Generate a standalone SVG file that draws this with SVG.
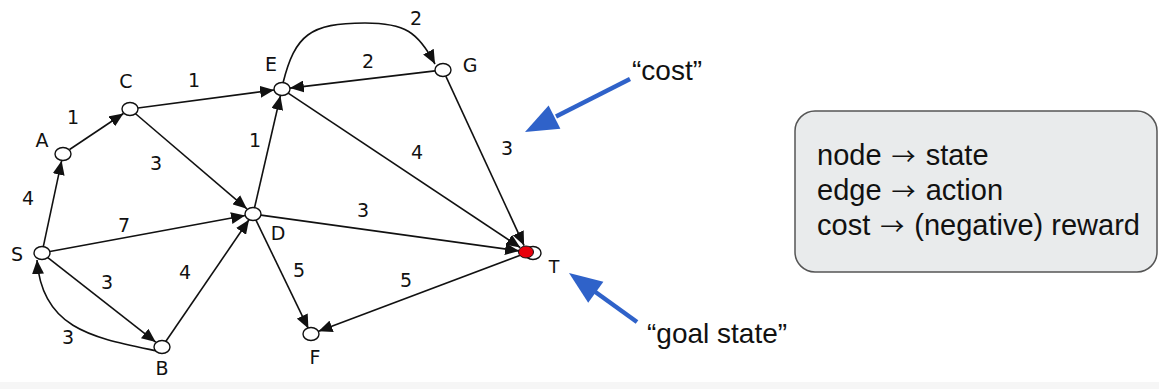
<svg xmlns="http://www.w3.org/2000/svg" width="1159" height="389" viewBox="0 0 1159 389">
<style>
.lbl{font-family:"DejaVu Sans",Verdana,sans-serif;font-size:19px;fill:#111;text-anchor:middle}
.nd{fill:#fff;stroke:#111;stroke-width:1.4}
.ed{fill:none;stroke:#111;stroke-width:1.6;marker-end:url(#ah)}
.note{font-family:"Liberation Sans",Arial,sans-serif;fill:#111}
.arr{font-family:"Noto Sans CJK SC","Noto Sans CJK JP",sans-serif;font-size:24px}
.blue{stroke:#2f62c9;stroke-width:4.5;fill:none}
</style>
<defs>
<marker id="ah" viewBox="0 0 14 12" refX="14" refY="6" markerWidth="14" markerHeight="12" markerUnits="userSpaceOnUse" orient="auto">
<path d="M0,0 L14,6 L0,12 z" fill="#111"/>
</marker>
</defs>
<rect x="0" y="382" width="1159" height="7" fill="#f6f6f6"/>
<g id="connectors">
<line class="ed" x1="43.2" y1="247.1" x2="61.6" y2="160.8"/>
<line class="ed" x1="69.6" y1="149.5" x2="123.4" y2="113.5"/>
<line class="ed" x1="137.9" y1="108" x2="274.1" y2="90"/>
<line class="ed" x1="135.3" y1="113.5" x2="246.9" y2="208.8"/>
<line class="ed" x1="254.4" y1="208.2" x2="280.4" y2="95.8"/>
<path class="ed" d="M283,83 C295,35 310,23 365,23 C405,23 418,32 435,64"/>
<line class="ed" x1="435.1" y1="70.9" x2="289.9" y2="88.1"/>
<line class="ed" x1="287.8" y1="92.9" x2="520.3" y2="247.6"/>
<line class="ed" x1="445.9" y1="76.4" x2="524.1" y2="245.6"/>
<line class="ed" x1="49.9" y1="251.5" x2="245.1" y2="215.5"/>
<line class="ed" x1="47.5" y1="257.3" x2="155.7" y2="342.1"/>
<path class="ed" d="M157,351 C95,338 42,330 37,260"/>
<line class="ed" x1="165.4" y1="342" x2="249" y2="219.8"/>
<line class="ed" x1="260.9" y1="215.1" x2="519.1" y2="250.9"/>
<line class="ed" x1="255.6" y1="219.4" x2="308.4" y2="328.6"/>
<line class="ed" x1="521" y1="255" x2="318.5" y2="331.2"/>
</g>
<g id="edge-labels">
<text class="lbl" x="28" y="205">4</text>
<text class="lbl" x="73" y="124">1</text>
<text class="lbl" x="194" y="87">1</text>
<text class="lbl" x="156" y="170">3</text>
<text class="lbl" x="255" y="147">1</text>
<text class="lbl" x="416" y="25">2</text>
<text class="lbl" x="368" y="68">2</text>
<text class="lbl" x="417" y="159">4</text>
<text class="lbl" x="507" y="155">3</text>
<text class="lbl" x="124" y="232">7</text>
<text class="lbl" x="107" y="289">3</text>
<text class="lbl" x="185" y="279">4</text>
<text class="lbl" x="68" y="344">3</text>
<text class="lbl" x="363" y="217">3</text>
<text class="lbl" x="299" y="277">5</text>
<text class="lbl" x="406" y="287">5</text>
</g>
<g id="node-S"><ellipse class="nd" cx="42" cy="253" rx="8" ry="6.5"/><text class="lbl" x="17" y="261">S</text></g>
<g id="node-A"><ellipse class="nd" cx="63" cy="154" rx="8" ry="6.5"/><text class="lbl" x="42" y="147">A</text></g>
<g id="node-C"><ellipse class="nd" cx="130" cy="109" rx="8" ry="6.5"/><text class="lbl" x="126" y="88">C</text></g>
<g id="node-E"><ellipse class="nd" cx="282" cy="89" rx="8" ry="6.5"/><text class="lbl" x="271" y="71">E</text></g>
<g id="node-G"><ellipse class="nd" cx="443" cy="70" rx="8" ry="6.5"/><text class="lbl" x="470" y="72">G</text></g>
<g id="node-D"><ellipse class="nd" cx="253" cy="214" rx="8" ry="6.5"/><text class="lbl" x="278" y="240">D</text></g>
<g id="node-B"><ellipse class="nd" cx="162" cy="347" rx="8" ry="6.5"/><text class="lbl" x="162" y="375">B</text></g>
<g id="node-F"><ellipse class="nd" cx="311" cy="334" rx="8" ry="6.5"/><text class="lbl" x="315" y="364">F</text></g>
<g id="node-T">
<ellipse class="nd" cx="533" cy="253" rx="8" ry="6.5"/>
<ellipse cx="526" cy="252" rx="7.5" ry="6" fill="#e8000b" stroke="#111" stroke-width="1"/>
<text class="note" x="554" y="273" font-size="19" text-anchor="middle">T</text>
</g>
<g id="cost-note">
<line class="blue" x1="630" y1="79" x2="556" y2="116.5"/>
<polygon points="525,132 560.4,128.7 548.6,105.5" fill="#2f62c9"/>
<text class="note" x="632" y="80" font-size="28">“cost”</text>
</g>
<g id="goal-note">
<line class="blue" x1="637" y1="322" x2="594" y2="291"/>
<polygon points="569,273 603.4,281.8 588.2,302.8" fill="#2f62c9"/>
<text class="note" x="647" y="343" font-size="28">“goal state”</text>
</g>
<g id="legend">
<rect x="795" y="111" width="362" height="161" rx="20" ry="20" fill="#e9ebec" stroke="#555" stroke-width="1.5"/>
<text class="note" x="817" y="165" font-size="29">node <tspan class="arr" dx="2">→</tspan> <tspan dx="2">state</tspan></text>
<text class="note" x="817" y="200" font-size="29">edge <tspan class="arr" dx="2">→</tspan> <tspan dx="2">action</tspan></text>
<text class="note" x="817" y="235" font-size="29">cost <tspan class="arr" dx="2">→</tspan> <tspan dx="2">(negative) reward</tspan></text>
</g>
</svg>
